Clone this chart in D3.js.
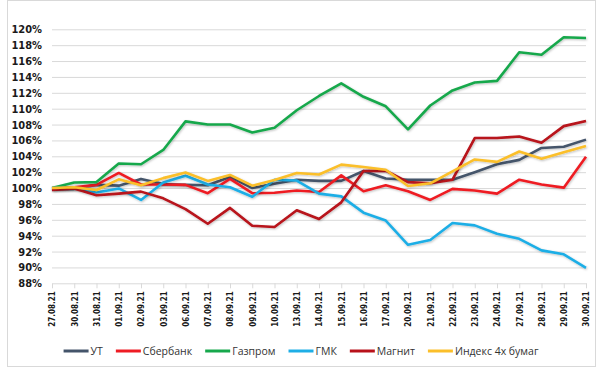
<!DOCTYPE html>
<html>
<head>
<meta charset="utf-8">
<script src="https://cdn.jsdelivr.net/npm/d3@7"></script>
<style>
  html, body { margin: 0; padding: 0; background: #fff; }
  svg { display: block; }
</style>
</head>
<body>
<div id="chart"></div>
<script>
const dates = ["27.08.21", "30.08.21", "31.08.21", "01.09.21", "02.09.21", "03.09.21",
  "06.09.21", "07.09.21", "08.09.21", "09.09.21", "10.09.21", "13.09.21", "14.09.21",
  "15.09.21", "16.09.21", "17.09.21", "20.09.21", "21.09.21", "22.09.21", "23.09.21",
  "24.09.21", "27.09.21", "28.09.21", "29.09.21", "30.09.21"]

const yTicks = [88, 90, 92, 94, 96, 98, 100, 102, 104, 106, 108, 110, 112, 114, 116, 118, 120]

const ut = [99.8, 99.9, 100.4, 100.3, 101.15, 100.5, 100.4, 100.35, 101.4, 100.0, 100.55, 101.05, 100.9,
  100.9, 102.15, 101.2, 101.05, 101.05, 101.05, 102.0, 103.0, 103.55, 105.05, 105.2, 106.1]
const sber = [100, 100.1, 100.4, 101.9, 100.45, 100.45, 100.4, 99.35, 101.15, 99.35, 99.4, 99.7, 99.5,
  101.6, 99.6, 100.35, 99.6, 98.5, 99.9, 99.7, 99.3, 101.05, 100.45, 100.05, 103.95]
const gazprom = [100, 100.7, 100.75, 103.1, 103.0, 104.8, 108.4, 108.0, 108.0, 107.0, 107.6, 109.8, 111.6,
  113.2, 111.5, 110.3, 107.4, 110.4, 112.3, 113.3, 113.5, 117.1, 116.8, 119.0, 118.9]
const gmk = [100, 100, 99.45, 99.95, 98.5, 100.7, 101.55, 100.45, 100.1, 98.9, 101.05, 100.95, 99.3,
  98.95, 96.9, 95.9, 92.85, 93.45, 95.6, 95.3, 94.25, 93.6, 92.15, 91.65, 89.95]
const magnit = [99.75, 99.95, 99.1, 99.3, 99.55, 98.7, 97.35, 95.5, 97.5, 95.25, 95.1, 97.2, 96.1,
  98.2, 102.15, 102.2, 100.75, 100.6, 101.05, 106.3, 106.3, 106.5, 105.7, 107.8, 108.45]
const index4 = [100, 100.1, 99.75, 101.1, 100.35, 101.25, 101.95, 100.9, 101.65, 100.3, 101.0, 101.9, 101.7,
  102.95, 102.65, 102.3, 100.25, 100.6, 102.1, 103.6, 103.3, 104.6, 103.7, 104.5, 105.3]

const series = [
  {name: "УТ", values: ut, color: "#44546a"},
  {name: "Сбербанк", values: sber, color: "#ee1c24"},
  {name: "Газпром", values: gazprom, color: "#17a84c"},
  {name: "ГМК", values: gmk, color: "#1eaee6"},
  {name: "Магнит", values: magnit, color: "#b8121a"},
  {name: "Индекс 4х бумаг", values: index4, color: "#fbbf2a"},
]

const width = 600
const height = 368
const margin = {top: 29.3, right: 14, bottom: 84.7, left: 52}

const svg = d3.select("#chart").append("svg")
  .attr("width", width)
  .attr("height", height)

// chart area frame
svg.append("rect")
  .attr("x", 7.5).attr("y", 0.5)
  .attr("width", 588).attr("height", 366)
  .attr("fill", "#fff")
  .attr("stroke", "#d9d9d9")

const defs = svg.append("defs")
defs.append("filter")
  .attr("id", "shadow")
  .attr("x", "-5%").attr("y", "-5%").attr("width", "110%").attr("height", "110%")
  .append("feDropShadow")
    .attr("dx", 0.8).attr("dy", 1)
    .attr("stdDeviation", 0.8)
    .attr("flood-color", "#000")
    .attr("flood-opacity", 0.25)

const x = d3.scalePoint()
  .domain(dates)
  .range([margin.left, width - margin.right])

const y = d3.scaleLinear()
  .domain([88, 120])
  .range([height - margin.bottom, margin.top])

// grid
const grid = svg.append("g")
  .attr("transform", `translate(${margin.left},0)`)
  .call(d3.axisLeft(y).tickValues(yTicks.slice(1)).tickSize(-(width - margin.left - margin.right)).tickFormat(""))
grid.select(".domain").remove()
grid.selectAll("line").attr("stroke", "#d9d9d9")

// y labels
const axisY = svg.append("g")
  .attr("transform", `translate(${margin.left - 10},0)`)
  .call(d3.axisLeft(y).tickValues(yTicks).tickSize(0).tickFormat(d => d + "%"))
axisY.select(".domain").remove()
axisY.selectAll("text")
  .attr("x", 0)
  .attr("fill", "#1a1a1a")
  .style("font-family", "'DejaVu Sans Condensed', 'DejaVu Sans', sans-serif")
  .style("font-weight", "bold")
  .style("font-size", "11px")

// x axis
const axisX = svg.append("g")
  .attr("transform", `translate(0,${height - margin.bottom})`)
  .call(d3.axisBottom(x).tickSize(5).tickSizeOuter(0))
axisX.select(".domain").attr("stroke", "#d9d9d9")
axisX.selectAll("line").attr("stroke", "#d9d9d9")
axisX.selectAll("text")
  .attr("transform", "rotate(-90)")
  .attr("x", -8)
  .attr("y", 0)
  .attr("dy", "0.35em")
  .attr("text-anchor", "end")
  .attr("fill", "#1a1a1a")
  .style("font-family", "'DejaVu Sans Condensed', 'DejaVu Sans', sans-serif")
  .style("font-weight", "bold")
  .style("font-size", "8px")

// lines
const line = d3.line()
  .x((d, i) => x(dates[i]))
  .y(d => y(d))

svg.append("g")
  .selectAll("path")
  .data(series)
  .join("path")
    .attr("d", d => line(d.values))
    .attr("fill", "none")
    .attr("stroke", d => d.color)
    .attr("stroke-width", 2.6)
    .attr("stroke-linejoin", "round")
    .attr("filter", "url(#shadow)")

// legend
const legend = svg.append("g")
const legendY = 351
const items = legend.selectAll("g")
  .data(series)
  .join("g")
items.append("line")
  .attr("x1", 0).attr("x2", 25)
  .attr("y1", legendY).attr("y2", legendY)
  .attr("stroke", d => d.color)
  .attr("stroke-width", 3)
items.append("text")
  .attr("x", 27)
  .attr("y", legendY)
  .attr("dy", "0.35em")
  .attr("fill", "#333")
  .style("font-family", "'Open Sans', sans-serif")
  .style("font-size", "10.5px")
  .text(d => d.name)

const gap = 13
let offset = 0
const widths = []
items.each(function() {
  const w = 27 + d3.select(this).select("text").node().getComputedTextLength()
  widths.push(w)
})
const total = d3.sum(widths) + gap * (widths.length - 1)
offset = 301 - total / 2
items.attr("transform", (d, i) => {
  const t = `translate(${offset},0)`
  offset += widths[i] + gap
  return t
})
</script>
</body>
</html>
